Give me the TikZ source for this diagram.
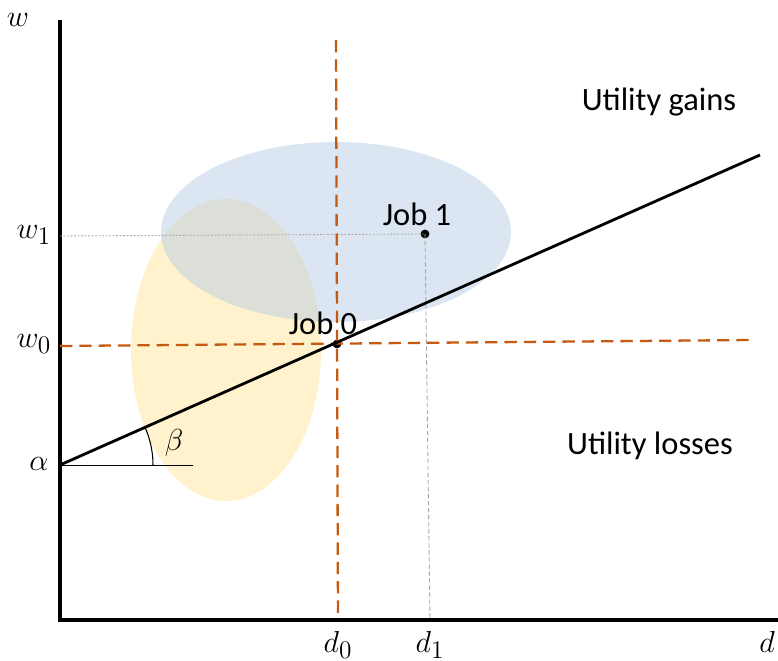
\documentclass[tikz,border=0pt]{standalone}
\usepackage{fontspec}
\newfontfamily\carlito{Carlito}
\usepackage{tikz}
\usetikzlibrary{calc}
\definecolor{dorange}{RGB}{197,90,17}
\definecolor{ellblue}{RGB}{185,205,229}
\definecolor{ellyellow}{RGB}{255,229,153}
\tikzstyle{axis}   = [line width=2pt]
\tikzstyle{wage}   = [line width=1.6pt]
\tikzstyle{refln}  = [dorange, line width=1.3pt, dash pattern=on 7pt off 4pt]
\tikzstyle{guide}  = [gray!70, line width=0.5pt, dash pattern=on 1pt off 1pt]
\tikzstyle{guide2} = [gray!70, line width=0.5pt, dash pattern=on 2.5pt off 1.5pt]
\tikzstyle{dot}    = [circle, fill=black, inner sep=0pt, minimum size=5pt]
\tikzstyle{mlab}   = [font=\fontsize{19}{22}\selectfont]
\tikzstyle{tlab}   = [font=\carlito\fontsize{18.5}{22}\selectfont]

\begin{document}
\begin{tikzpicture}[x=0.02cm, y=-0.02cm]
  \useasboundingbox (0,0) rectangle (778,661);

  % Points
  \coordinate (O)   at (60,620);
  \coordinate (ytop) at (60,20);
  \coordinate (xend) at (778,620);
  \coordinate (A)   at (60,465);
  \coordinate (wend) at (760,155);
  \coordinate (hend) at (193,465);

  % Regions
  \fill[ellyellow, opacity=0.5] (226,350) ellipse [x radius=95, y radius=151];
  \fill[ellblue, opacity=0.5] (336,232) ellipse [x radius=175, y radius=90];

  % Jobs
  \node[dot] (j0) at (337,344) {};
  \node[dot] (j1) at (425,234) {};
  \node[tlab] (j0lab) at (323,323) {Job 0};
  \node[tlab] (j1lab) at (417,214) {Job 1};

  % Axes
  \draw[axis] (ytop) -- (O) -- (xend);
  \node[mlab] (wlab) at (18,20) {$w$};
  \node[mlab] (dlab) at (767,642) {$d$};

  % Reference lines
  \coordinate (h0l) at (60,346);
  \coordinate (h0r) at (752,340);
  \coordinate (v0t) at (336,40);
  \coordinate (v0b) at (338,620);
  \draw[refln] (h0l) -- (h0r);
  \draw[refln] (v0t) -- (v0b);
  \coordinate (w1l) at (60,236);
  \coordinate (d1b) at (430,620);
  \draw[guide] (w1l) -- (j1.center);
  \draw[guide2] (j1.center) -- (d1b);

  \node[mlab] (w0lab) at (34,344) {$w_0$};
  \node[mlab] (w1lab) at (34,235) {$w_1$};
  \node[mlab] (alab)  at (39,464) {$\alpha$};
  \node[mlab] (d0lab) at (338,645) {$d_0$};
  \node[mlab] (d1lab) at (430,645) {$d_1$};

  % Wage line
  \draw[wage] (A) -- (wend);
  \draw[line width=0.5pt] (A) -- (hend);
  \draw[line width=0.6pt] ($(A)+(93,0)$) arc[start angle=0, end angle=-23.9, radius=93];
  \node[mlab] (blab) at (174,443) {$\beta$};

  \node[tlab] (gains)  at (659,102) {Utility gains};
  \node[tlab] (losses) at (650,446) {Utility losses};
\end{tikzpicture}
\end{document}
